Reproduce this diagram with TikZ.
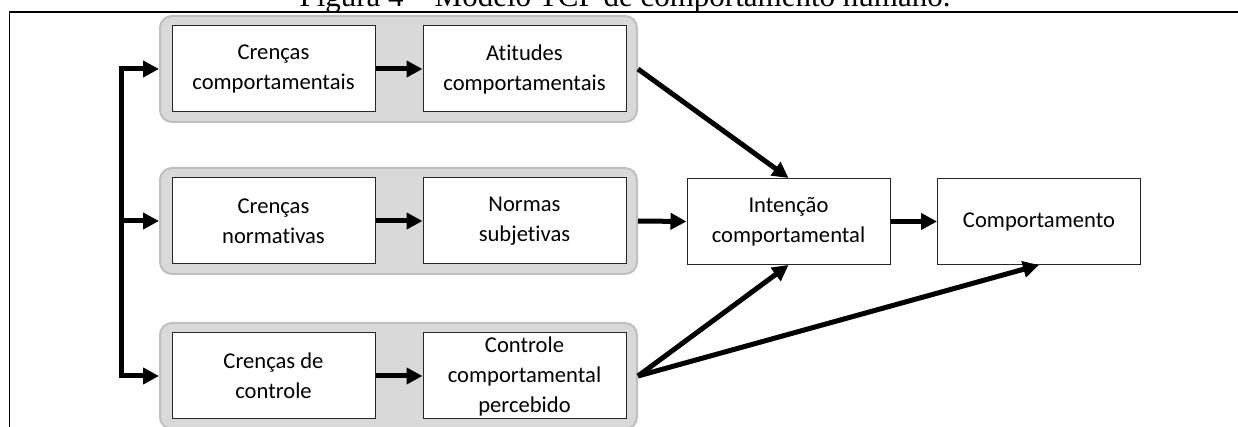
\documentclass[tikz,border=0pt]{standalone}
\usepackage{fontspec}
\setmainfont{Liberation Serif}
\newfontfamily\carlito[Ligatures=NoCommon]{Carlito}
\usetikzlibrary{arrows.meta}
\tikzset{
tcpbox/.style={rectangle, draw=black!85, fill=white, line width=0.5pt, inner sep=0pt, minimum width=101.5pt, minimum height=43pt, align=center, font=\carlito\fontsize{11.3}{15}\selectfont},
grupo/.style={rectangle, rounded corners=6pt, draw=black!25, fill=black!15, line width=1pt, inner sep=0pt, minimum width=238.5pt, minimum height=53pt},
setagrossa/.style={line width=2.5pt, -{Triangle[length=8pt,width=8pt]}},
}

\begin{document}
\begin{tikzpicture}[x=0.5pt,y=-0.5pt]
\useasboundingbox (0,0) rectangle (1238,427);
\node[anchor=base, inner sep=0pt] at (625,7) (titulo) {\fontsize{15.5}{18}\selectfont Figura 4 – Modelo TCP de comportamento humano.};
\draw[line width=0.75pt] (9.5,427) -- (9.5,12) -- (1238,12);

\node[grupo] at (398.5,69) (g1) {};
\node[grupo] at (398.5,221) (g2) {};
\node[grupo] at (398.5,376) (g3) {};

\node[tcpbox] at (273.5,69) (cc) {Crenças\\comportamentais};
\node[tcpbox] at (524.5,69) (ac) {Atitudes\\comportamentais};
\node[tcpbox] at (273.5,221) (cn) {Crenças\\normativas};
\node[tcpbox] at (524.5,221) (ns) {Normas\\subjetivas};
\node[tcpbox] at (273.5,376) (cdc) {Crenças de\\controle};
\node[tcpbox] at (524.5,376) (ccp) {Controle\\comportamental\\percebido};
\node[tcpbox] at (788.5,221.5) (int) {Intenção\\comportamental};
\node[tcpbox] at (1039,221.5) (comp) {Comportamento};

\coordinate (fork) at (121,221);
\draw[setagrossa] (fork) |- (g1.west);
\draw[setagrossa] (fork) -- (g2.west);
\draw[setagrossa] (fork) |- (g3.west);

\draw[setagrossa] (cc) -- (ac);
\draw[setagrossa] (cn) -- (ns);
\draw[setagrossa] (cdc) -- (ccp);

\draw[setagrossa] (g1.east) -- (int.north);
\draw[setagrossa] (g2.east) -- (int.west);
\draw[setagrossa] (g3.east) -- (int.south);
\draw[setagrossa] (g3.east) -- (comp.south);
\draw[setagrossa] (int) -- (comp);
\end{tikzpicture}
\end{document}
